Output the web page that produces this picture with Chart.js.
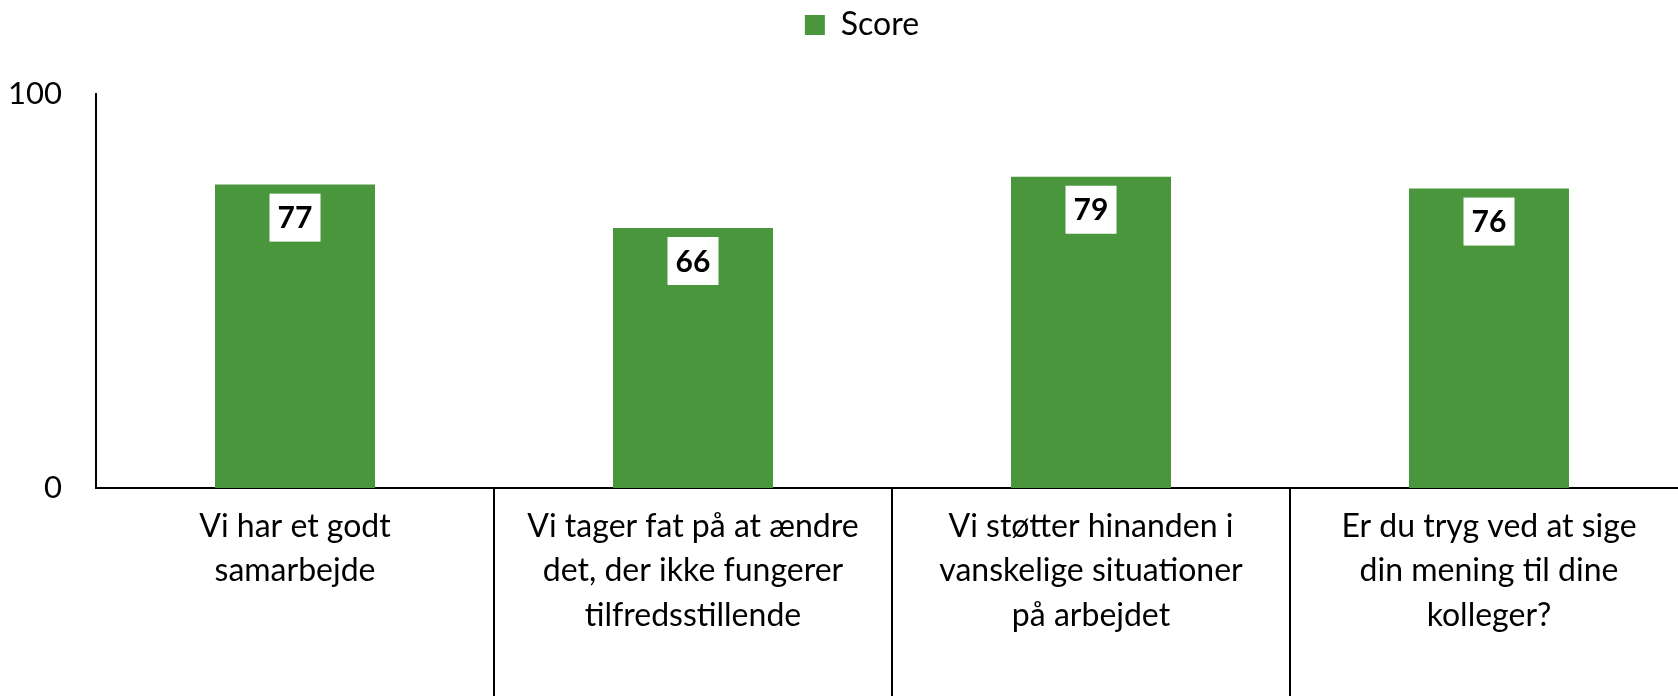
<!DOCTYPE html>
<html>
<head>
<meta charset="utf-8">
<script src="https://cdn.jsdelivr.net/npm/chart.js@4"></script>
<style>
    html, body { margin: 0; padding: 0; background: #fff; overflow: hidden; }
    #wrap { width: 1724px; height: 696px; position: relative; }
</style>
</head>
<body>
<div id="wrap"><canvas id="mainChart"></canvas></div>
<script>
// Chart data
const categories = [
    ['Vi har et godt', 'samarbejde'],
    ['Vi tager fat på at ændre', 'det, der ikke fungerer', 'tilfredsstillende'],
    ['Vi støtter hinanden i', 'vanskelige situationer', 'på arbejdet'],
    ['Er du tryg ved at sige', 'din mening til dine', 'kolleger?']
];
const scores = [77, 66, 79, 76];
const yTicks = [0, 100];

const FONT = "Lato, 'Open Sans', sans-serif";
const GREEN = '#4a963d';

// Draws white boxed value labels just inside the top of each bar
const valueLabels = {
    id: 'valueLabels',
    afterDatasetsDraw(chart) {
        const ctx = chart.ctx;
        const meta = chart.getDatasetMeta(0);
        ctx.save();
        ctx.font = "bold 30px " + FONT;
        ctx.textAlign = 'center';
        ctx.textBaseline = 'middle';
        meta.data.forEach((bar, i) => {
            const text = String(chart.data.datasets[0].data[i]);
            const w = 51;
            const h = 48;
            const top = bar.y + 9;
            ctx.fillStyle = '#ffffff';
            ctx.fillRect(bar.x - w / 2, top, w, h);
            ctx.fillStyle = '#000000';
            ctx.fillText(text, bar.x, top + h / 2 + 1);
        });
        ctx.restore();
    }
};

document.addEventListener('DOMContentLoaded', () => {
    const ctx = document.getElementById('mainChart').getContext('2d');
    new Chart(ctx, {
        type: 'bar',
        data: {
            labels: categories,
            datasets: [{
                label: 'Score',
                data: scores,
                backgroundColor: GREEN,
                borderWidth: 0,
                categoryPercentage: 1.0,
                barPercentage: 0.402
            }]
        },
        options: {
            responsive: true,
            maintainAspectRatio: false,
            animation: false,
            layout: { padding: 0 },
            plugins: {
                legend: {
                    position: 'top',
                    labels: {
                        font: { family: FONT, size: 32 },
                        color: '#000',
                        boxWidth: 20,
                        boxHeight: 20,
                        padding: 9
                    }
                },
                // empty title used only as spacer between legend and plot
                title: {
                    display: true,
                    text: '',
                    weight: 500,
                    font: { size: 10, lineHeight: 1.2 },
                    padding: { top: 0, bottom: 31 }
                },
                tooltip: { enabled: false }
            },
            scales: {
                x: {
                    grid: {
                        display: true,
                        drawOnChartArea: false,
                        drawTicks: true,
                        tickLength: 210,
                        lineWidth: 2,
                        color: (c) => (c.index >= 1 && c.index <= 3) ? '#000' : 'rgba(0,0,0,0)'
                    },
                    border: { display: true, color: '#000', width: 2 },
                    ticks: {
                        autoSkip: false,
                        maxRotation: 0,
                        padding: -194,
                        color: '#000',
                        font: { family: FONT, size: 32, lineHeight: 1.39 }
                    },
                    afterFit: (scale) => { scale.height = 208; }
                },
                y: {
                    min: 0,
                    max: 100,
                    afterBuildTicks: (scale) => { scale.ticks = yTicks.map(v => ({ value: v })); },
                    grid: { display: false, drawTicks: false },
                    border: { display: true, color: '#000', width: 2 },
                    ticks: {
                        padding: 34,
                        color: '#000',
                        font: { family: FONT, size: 31 }
                    },
                    afterFit: (scale) => { scale.width = 96; }
                },
                // blank right-hand spacer so the plot runs past the window edge
                yRight: {
                    type: 'linear',
                    position: 'right',
                    grid: { display: false, drawTicks: false },
                    border: { display: false },
                    ticks: { display: false },
                    afterFit: (scale) => { scale.width = 36; }
                }
            }
        },
        plugins: [valueLabels]
    });
});
</script>
</body>
</html>
